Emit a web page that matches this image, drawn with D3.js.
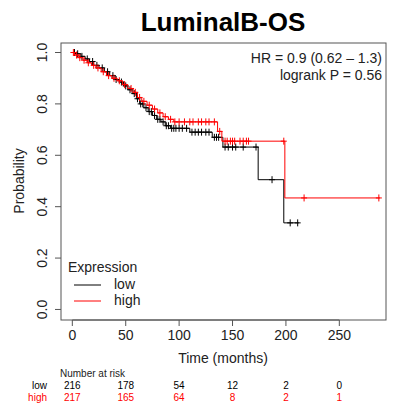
<!DOCTYPE html>
<html>
<head>
<meta charset="utf-8">
<script src="https://cdn.jsdelivr.net/npm/d3@7"></script>
<style>
body { margin:0; background:#fff; }
text { font-family: "Liberation Sans", Arial, sans-serif; }
</style>
</head>
<body>
<svg width="394" height="407"></svg>
<script>
// step points of the KM curves: [months, survival after the step]
var lowSteps = [[0,1.0],[3,0.995],[8,0.985],[12,0.975],[16,0.965],[20,0.95],[25,0.94],[30,0.925],[35,0.91],[40,0.895],[44,0.885],[48,0.87],[52,0.855],[56,0.84],[60,0.82],[63,0.80],[67,0.785],[71,0.77],[75,0.755],[79,0.74],[83,0.73],[87,0.715],[92,0.705],[110,0.69],[131,0.67],[141,0.632],[174,0.505],[198,0.337]]
var lowEnd = 212
var lowCensor = [2,5,9,14,19,23,28,33,38,41,46,50,54,58,61,64,66,69,72,74,77,80,82,85,88,90,93,95,97,100,103,107,112,115,118,121,125,128,133,135,137,143,146,150,153,160,172,187,204,211]

var highSteps = [[0,1.0],[2,0.99],[6,0.98],[10,0.97],[14,0.96],[18,0.95],[22,0.94],[27,0.925],[32,0.91],[37,0.90],[42,0.89],[47,0.875],[52,0.86],[57,0.845],[61,0.825],[65,0.81],[70,0.795],[75,0.78],[80,0.765],[85,0.75],[90,0.74],[95,0.73],[136,0.693],[140,0.655],[199,0.434]]
var highEnd = 288
var highCensor = [1,4,7,11,15,20,24,29,34,39,44,49,55,59,63,67,72,77,82,87,92,96,100,105,110,113,118,121,125,128,133,138,143,145,148,150,152,157,160,163,165,198,217,287]

var riskTimes = [0,50,100,150,200,250]
var riskLow = [216,178,54,12,2,0]
var riskHigh = [217,165,64,8,2,1]

var xTicks = [0,50,100,150,200,250]
var yTicks = [0,0.2,0.4,0.6,0.8,1.0]

var box = {left:61,right:386,top:43,bottom:320}
var svg = d3.select("svg")

var xScale = d3.scaleLinear().domain([-10.6,293.7]).range([box.left,box.right])
var yScale = d3.scaleLinear().domain([-0.041,1.037]).range([box.bottom,box.top])

// title
svg.append("text")
    .attr("x",223).attr("y",31)
    .attr("text-anchor","middle")
    .style("font-size","26px").style("font-weight","bold")
    .text("LuminalB-OS")

// plot box
svg.append("rect")
    .attr("x",box.left).attr("y",box.top)
    .attr("width",box.right-box.left).attr("height",box.bottom-box.top)
    .attr("fill","none").attr("stroke","#555").attr("stroke-width",1)

// x axis
var xAxis = svg.append("g")
xAxis.append("line")
    .attr("x1",xScale(0)).attr("x2",xScale(250))
    .attr("y1",box.bottom).attr("y2",box.bottom)
    .attr("stroke","#555")
xAxis.selectAll(".xt").data(xTicks).enter().append("line")
    .attr("x1",function(d){return xScale(d)}).attr("x2",function(d){return xScale(d)})
    .attr("y1",box.bottom).attr("y2",box.bottom+6)
    .attr("stroke","#555")
xAxis.selectAll(".xl").data(xTicks).enter().append("text")
    .attr("x",function(d){return xScale(d)}).attr("y",340)
    .attr("text-anchor","middle")
    .style("font-size","14px").attr("fill","#222")
    .text(function(d){return d})
svg.append("text")
    .attr("x",223).attr("y",363)
    .attr("text-anchor","middle")
    .style("font-size","14px").attr("fill","#222")
    .text("Time (months)")

// y axis
var yAxis = svg.append("g")
yAxis.selectAll(".yt").data(yTicks).enter().append("line")
    .attr("x1",box.left-6).attr("x2",box.left)
    .attr("y1",function(d){return yScale(d)}).attr("y2",function(d){return yScale(d)})
    .attr("stroke","#555")
yAxis.selectAll(".yl").data(yTicks).enter().append("text")
    .attr("transform",function(d){return "translate(47,"+yScale(d)+") rotate(-90)"})
    .attr("text-anchor","middle")
    .style("font-size","14px").attr("fill","#222")
    .text(function(d){return d.toFixed(1)})
svg.append("text")
    .attr("transform","translate(24,181) rotate(-90)")
    .attr("text-anchor","middle")
    .style("font-size","14px").attr("fill","#222")
    .text("Probability")

// KM curves
var drawCurve = function(steps,end,censor,color)
{
    var pts = []
    steps.forEach(function(s,i){
        if(i>0) pts.push([s[0],steps[i-1][1]])
        pts.push(s)
    })
    pts.push([end,steps[steps.length-1][1]])
    svg.append("path")
        .datum(pts)
        .attr("fill","none").attr("stroke",color).attr("stroke-width",1)
        .attr("d",d3.line().x(function(p){return xScale(p[0])}).y(function(p){return yScale(p[1])}))

    var survAt = function(t)
    {
        var v = 1
        steps.forEach(function(s){ if(s[0]<=t) v = s[1] })
        return v
    }
    var g = svg.append("g").attr("stroke",color).attr("stroke-width",1)
    censor.forEach(function(t){
        var cx = xScale(t), cy = yScale(survAt(t))
        g.append("line").attr("x1",cx-3).attr("x2",cx+3).attr("y1",cy).attr("y2",cy)
        g.append("line").attr("x1",cx).attr("x2",cx).attr("y1",cy-3.5).attr("y2",cy+3.5)
    })
}
drawCurve(lowSteps,lowEnd,lowCensor,"#000")
drawCurve(highSteps,highEnd,highCensor,"#ff0000")

// HR text
svg.append("text").attr("x",382).attr("y",63).attr("text-anchor","end")
    .style("font-size","14px").attr("fill","#222").text("HR = 0.9 (0.62 \u2013 1.3)")
svg.append("text").attr("x",382).attr("y",80).attr("text-anchor","end")
    .style("font-size","14px").attr("fill","#222").text("logrank P = 0.56")

// legend
svg.append("text").attr("x",68).attr("y",272)
    .style("font-size","14px").attr("fill","#222").text("Expression")
var legend = [["low","#000",285],["high","#ff0000",301]]
legend.forEach(function(l){
    svg.append("line").attr("x1",74).attr("x2",101).attr("y1",l[2]).attr("y2",l[2])
        .attr("stroke",l[1]).attr("stroke-width",1)
    svg.append("text").attr("x",114).attr("y",l[2]+4)
        .style("font-size","14px").attr("fill","#222").text(l[0])
})

// number at risk
svg.append("text").attr("x",60).attr("y",377)
    .style("font-size","10px").attr("fill","#222").text("Number at risk")
var rows = [["low",riskLow,"#000",389],["high",riskHigh,"#ff0000",401]]
rows.forEach(function(r){
    svg.append("text").attr("x",47).attr("y",r[3]).attr("text-anchor","end")
        .style("font-size","10px").attr("fill",r[2]).text(r[0])
    svg.selectAll(null).data(riskTimes).enter().append("text")
        .attr("x",function(d){return xScale(d)}).attr("y",r[3])
        .attr("text-anchor","middle")
        .style("font-size","10px").attr("fill",r[2])
        .text(function(d,i){return r[1][i]})
})
</script>
</body>
</html>
